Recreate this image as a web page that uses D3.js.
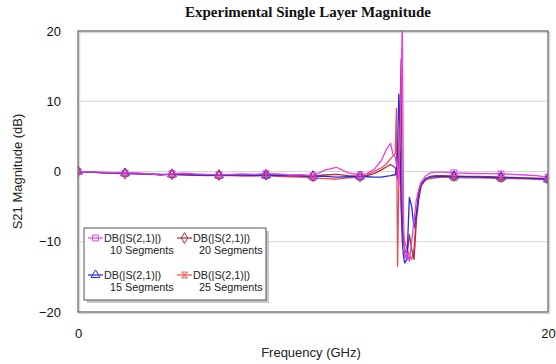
<!DOCTYPE html>
<html>
<head>
<meta charset="utf-8">
<script src="https://cdn.jsdelivr.net/npm/d3@7"></script>
<style>
  body { margin: 0; background: #fff; }
  svg text { font-family: Arial, "Liberation Sans", sans-serif; }
</style>
</head>
<body>
<div id="chart"></div>
<script>
// frequency grid (GHz), denser around the resonance
const freq = [0,0.5,1,1.5,2,2.5,3,3.5,4,4.5,5,5.5,6,6.5,7,7.5,8,8.5,9,9.5,10,10.5,11,11.5,12,
  12.3,12.6,12.9,13.1,13.3,13.4,13.5,13.55,13.6,13.65,13.7,13.75,13.8,13.85,13.9,
  14.0,14.1,14.2,14.3,14.4,14.5,14.6,14.8,15.0,15.2,15.5,16,16.5,17,17.5,18,18.5,19,19.5,20];

// S21 magnitude (dB) per segment count
const seg10 = [0,-0.05,-0.1,-0.15,-0.2,-0.2,-0.3,-0.55,-0.3,-0.25,-0.35,-0.4,-0.45,-0.4,-0.35,-0.4,-0.3,-0.35,-0.5,-0.45,-0.6,0.2,0.6,-0.2,-0.5,
  -0.3,0.3,1.5,3.0,4.0,2.5,2.0,1.0,0.5,-2,5,12,22,-6,-12.5,
  -11.5,-12.8,-10,-7,-4,-2.5,-1.5,-0.6,-0.2,-0.1,-0.1,-0.2,-0.25,-0.3,-0.3,-0.35,-0.4,-0.5,-0.6,-0.8];
const seg15 = [0,-0.1,-0.15,-0.2,-0.25,-0.3,-0.35,-0.4,-0.4,-0.45,-0.5,-0.5,-0.55,-0.5,-0.5,-0.55,-0.55,-0.6,-0.6,-0.65,-0.7,-0.7,-0.8,-0.75,-0.7,
  -0.75,-0.8,-0.8,-0.7,-0.6,-0.5,-0.5,0.5,3,11,6,-5,-10,-12,-13,
  -12.5,-3.7,-5,-8,-6,-3,-1.8,-1.0,-0.8,-0.75,-0.7,-0.7,-0.75,-0.8,-0.85,-0.85,-0.9,-0.95,-1.0,-1.1];
const seg20 = [0,-0.1,-0.15,-0.2,-0.3,-0.3,-0.35,-0.45,-0.4,-0.4,-0.45,-0.5,-0.5,-0.45,-0.5,-0.5,-0.45,-0.5,-0.55,-0.6,-0.65,-0.5,-0.4,-0.6,-0.7,
  -0.6,-0.3,0.2,0.6,1.0,0.8,0.5,0.2,-1,2,8,16,-8,-10,-11,
  -12,-9,-11,-12.5,-7,-4,-2,-1.0,-0.7,-0.6,-0.6,-0.65,-0.7,-0.7,-0.75,-0.8,-0.85,-0.9,-0.95,-1.0];
const seg25 = [0,-0.1,-0.2,-0.25,-0.3,-0.35,-0.4,-0.45,-0.45,-0.5,-0.55,-0.6,-0.6,-0.6,-0.65,-0.65,-0.6,-0.7,-0.75,-0.8,-0.9,-1.0,-1.1,-0.9,-0.8,
  -0.5,0,0.5,1.0,1.8,2.2,2.5,9,-13.5,-2,3,-4,-8,-9,-10,
  -11,-12,-12.5,-11,-6,-3.5,-2,-1.2,-1.0,-0.9,-0.85,-0.85,-0.9,-0.9,-0.95,-1.0,-1.0,-1.05,-1.1,-1.2];

const markerFreq = [0,2,4,6,8,10,12,16,18,20];
const yTicks = [-20,-10,0,10,20];
const xTicks = [0,20];
const gridVals = [-10,0,10];

// custom hourglass marker for the 25-segment trace
const symbolHourglass = {
  draw(ctx, size) {
    const r = Math.sqrt(size) / 2;
    ctx.moveTo(-r, -r); ctx.lineTo(r, -r); ctx.lineTo(-r, r); ctx.lineTo(r, r); ctx.closePath();
  }
};

const series = [
  { name: '25 Segments', vals: seg25, color: '#f04a4a', sym: symbolHourglass },
  { name: '20 Segments', vals: seg20, color: '#a83040', sym: d3.symbolDiamond },
  { name: '15 Segments', vals: seg15, color: '#2a2ad8', sym: d3.symbolTriangle },
  { name: '10 Segments', vals: seg10, color: '#e640e6', sym: d3.symbolSquare }
];

const width = 556, height = 364;
const svg = d3.select('#chart').append('svg')
    .attr('width', width).attr('height', height);

const x = d3.scaleLinear().domain([0, 20]).range([78, 548]);
const y = d3.scaleLinear().domain([-20, 20]).range([312, 31]);

// frame shadow + grid
svg.append('rect')
    .attr('x', x(0) + 1.5).attr('y', y(20) + 1.5)
    .attr('width', x(20) - x(0)).attr('height', y(-20) - y(20))
    .attr('fill', 'none').attr('stroke', '#d8d8d8').attr('stroke-width', 1.5);

svg.append('g').selectAll('line')
  .data(gridVals)
  .enter().append('line')
    .attr('x1', x(0)).attr('x2', x(20))
    .attr('y1', d => y(d)).attr('y2', d => y(d))
    .attr('stroke', '#d4d4d4').attr('stroke-width', 1);

svg.append('defs').append('clipPath').attr('id', 'clip')
  .append('rect')
    .attr('x', x(0)).attr('y', y(20))
    .attr('width', x(20) - x(0)).attr('height', y(-20) - y(20));

const line = d3.line()
    .x((d, i) => x(freq[i]))
    .y(d => y(d));

const plot = svg.append('g').attr('clip-path', 'url(#clip)');

series.forEach(s => {
  plot.append('path')
      .datum(s.vals)
      .attr('d', line)
      .attr('fill', 'none')
      .attr('stroke', s.color)
      .attr('stroke-width', 1.3)
      .attr('stroke-linejoin', 'round');
});

series.forEach(s => {
  const pts = markerFreq.map(f => [f, s.vals[freq.indexOf(f)]]);
  plot.append('g').selectAll('path')
    .data(pts)
    .enter().append('path')
      .attr('transform', d => `translate(${x(d[0])},${y(d[1])})`)
      .attr('d', d3.symbol().type(s.sym).size(34))
      .attr('fill', 'none')
      .attr('stroke', s.color)
      .attr('stroke-width', 1);
});

// frame
svg.append('rect')
    .attr('x', x(0)).attr('y', y(20))
    .attr('width', x(20) - x(0)).attr('height', y(-20) - y(20))
    .attr('fill', 'none').attr('stroke', '#6a6a6a').attr('stroke-width', 1.3);

// axes
const yAxis = svg.append('g')
    .attr('transform', `translate(${x(0) - 14},0)`)
    .call(d3.axisLeft(y).tickValues(yTicks).tickSize(0).tickFormat(d3.format('d')));
yAxis.select('.domain').remove();
yAxis.selectAll('text').attr('font-size', 13).attr('fill', '#111')
    .attr('font-family', 'Arial, "Liberation Sans", sans-serif');

const xAxis = svg.append('g')
    .attr('transform', `translate(0,${y(-20) + 14})`)
    .call(d3.axisBottom(x).tickValues(xTicks).tickSize(0).tickFormat(d3.format('d')));
xAxis.select('.domain').remove();
xAxis.selectAll('text').attr('font-size', 13).attr('fill', '#111')
    .attr('font-family', 'Arial, "Liberation Sans", sans-serif');

// titles
svg.append('text')
    .attr('x', 308).attr('y', 17)
    .attr('text-anchor', 'middle')
    .style('font-family', '"Liberation Serif", "Times New Roman", serif')
    .attr('font-weight', 'bold').attr('font-size', 15).attr('fill', '#111')
    .text('Experimental Single Layer Magnitude');

svg.append('text')
    .attr('x', 311).attr('y', 357)
    .attr('text-anchor', 'middle')
    .attr('font-size', 13).attr('fill', '#222')
    .text('Frequency (GHz)');

svg.append('text')
    .attr('transform', `translate(22,${y(0)}) rotate(-90)`)
    .attr('text-anchor', 'middle')
    .attr('font-size', 13).attr('fill', '#222')
    .text('S21 Magnitude (dB)');

// legend
const lg = svg.append('g').attr('transform', 'translate(84,228)');
lg.append('rect').attr('x', 3).attr('y', 3).attr('width', 182).attr('height', 72)
    .attr('fill', '#c8c8c8');
lg.append('rect').attr('width', 182).attr('height', 72)
    .attr('fill', '#fff').attr('stroke', '#555').attr('stroke-width', 1);

const legendItems = [
  { s: series[3], cx: 0, cy: 0 },
  { s: series[1], cx: 89, cy: 0 },
  { s: series[2], cx: 0, cy: 37 },
  { s: series[0], cx: 89, cy: 37 }
];
legendItems.forEach(it => {
  const g = lg.append('g').attr('transform', `translate(${it.cx},${it.cy})`);
  g.append('line').attr('x1', 4).attr('x2', 19).attr('y1', 10).attr('y2', 10)
      .attr('stroke', it.s.color).attr('stroke-width', 1.2);
  g.append('path').attr('transform', 'translate(11.5,10)')
      .attr('d', d3.symbol().type(it.s.sym).size(34))
      .attr('fill', 'none').attr('stroke', it.s.color).attr('stroke-width', 1);
  g.append('text').attr('x', 20).attr('y', 14).attr('font-size', 10.8).attr('fill', '#222')
      .text('DB(|S(2,1)|)');
  g.append('text').attr('x', 26).attr('y', 26).attr('font-size', 10.8).attr('fill', '#222')
      .text(it.s.name);
});
</script>
</body>
</html>
